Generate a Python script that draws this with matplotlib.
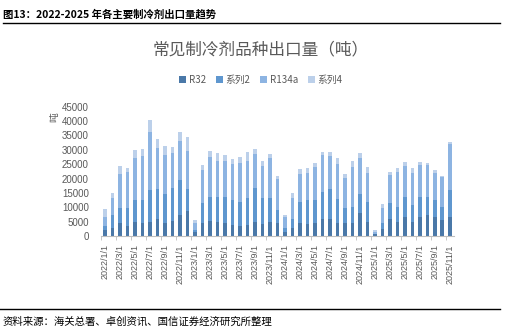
import numpy as np
import matplotlib
matplotlib.use("Agg")
import matplotlib.pyplot as plt

plt.rcParams['font.family'] = ['Noto Sans CJK SC', 'DejaVu Sans']

# monthly export volume (tonnes), 2022/1 .. 2025/11
months = ["%d/%d/1" % (y, m) for y in range(2022, 2026) for m in range(1, 13)][:47]
r32 = [2.1, 2.8, 4.4, 3.6, 5.0, 4.4, 5.0, 6.1, 4.4, 5.2, 7.3, 8.7,
       1.5, 4.4, 5.1, 5.0, 4.4, 3.8, 3.5, 3.8, 4.8, 4.1, 4.8, 4.4,
       1.5, 2.9, 4.4, 4.2, 4.4, 5.9, 5.9, 4.4, 4.4, 4.4, 8.1, 5.0,
       0.6, 2.4, 5.8, 4.9, 6.7, 5.0, 6.7, 7.3, 6.7, 5.5, 6.7]
s2 = [1.4, 4.5, 5.2, 6.3, 7.5, 8.1, 10.9, 10.3, 10.3, 11.6, 12.2, 7.7,
      0.6, 7.2, 8.5, 8.6, 9.3, 8.6, 8.4, 9.3, 12.0, 9.2, 8.3, 4.6,
      1.4, 3.2, 7.3, 8.3, 8.1, 9.5, 10.5, 8.5, 5.5, 5.8, 6.5, 6.9,
      0.3, 2.0, 5.6, 5.2, 7.0, 5.8, 6.8, 6.3, 5.7, 4.6, 9.3]
r134a = [3.1, 5.8, 12.0, 12.5, 14.5, 15.3, 20.1, 14.3, 13.5, 12.1, 13.6, 13.3,
         2.5, 11.3, 14.0, 12.6, 12.5, 12.7, 13.6, 13.1, 11.6, 11.1, 13.9, 10.8,
         3.7, 7.0, 9.9, 9.5, 11.4, 12.8, 11.5, 12.2, 10.2, 13.9, 12.4, 10.1,
         0.6, 5.2, 9.9, 12.1, 10.8, 11.2, 11.2, 11.1, 9.6, 10.6, 15.9]
s4 = [2.8, 2.0, 2.9, 1.4, 2.9, 2.5, 4.4, 3.1, 3.1, 2.0, 3.1, 4.6,
      1.0, 1.8, 2.0, 2.8, 1.8, 1.6, 2.1, 2.9, 1.9, 1.6, 1.5, 1.2,
      0.6, 2.0, 1.6, 1.5, 1.4, 1.1, 1.4, 1.9, 1.4, 1.9, 1.8, 1.9,
      0.6, 1.4, 1.1, 1.3, 1.2, 1.8, 1.2, 0.8, 0.9, 0.2, 0.8]

names = ["R32", "系列2", "R134a", "系列4"]
colors = ["#4a78a8", "#5f97cf", "#8db4e2", "#bcd0ea"]

fig = plt.figure(figsize=(5.22, 3.33), dpi=100)
ax = fig.add_axes([0.194, 0.291, 0.675, 0.389])

x = np.arange(len(months))
bottom = np.zeros(len(months))
for name, vals, c in zip(names, [r32, s2, r134a, s4], colors):
    v = np.array(vals) * 1000
    ax.bar(x, v, 0.5, bottom=bottom, color=c, label=name)
    bottom += v

ax.set_xlim(-0.5, len(months) - 0.5)
ax.set_ylim(0, 45000)
ax.set_yticks(range(0, 45001, 5000))
ax.tick_params(axis='y', length=0, labelsize=7, labelcolor='#595959', pad=9)
for lb in ax.get_yticklabels():
    lb.set_family(['Liberation Sans', 'DejaVu Sans'])
ax.set_xticks(x[::2])
ax.set_xticklabels(months[::2], rotation=90, fontsize=6.5, color='#595959',
                   family=['Liberation Sans', 'DejaVu Sans'])
ax.tick_params(axis='x', length=0, pad=6)
ax.set_xticks(np.arange(-0.5, len(months), 2), minor=True)
ax.tick_params(axis='x', which='minor', length=3, color='#bfbfbf')
for s in ['top', 'right', 'left']:
    ax.spines[s].set_visible(False)
ax.spines['bottom'].set_color('#bfbfbf')

fig.legend(loc='center', bbox_to_anchor=(0.5, 1 - 80 / 333), ncol=4, frameon=False,
           fontsize=7, handlelength=0.7, handleheight=0.7, handletextpad=0.3,
           columnspacing=1.0, labelcolor='#595959')

fig.text(0.5, 1 - 50 / 333, "常见制冷剂品种出口量（吨）", ha='center', va='center',
         fontsize=12, color='#595959')
fig.text(54 / 522, 1 - 117 / 333, "吨", rotation=90, ha='center', va='center',
         fontsize=7, color='#595959')

fig.text(3 / 522, 1 - 14 / 333, "图13：2022-2025 年各主要制冷剂出口量趋势", ha='left',
         va='center', fontsize=7.5, fontweight='bold', color='black')
fig.add_artist(plt.Line2D([3 / 522, 500 / 522], [1 - 23 / 333, 1 - 23 / 333],
                          color='black', lw=1))
fig.add_artist(plt.Line2D([0, 500 / 522], [1 - 309 / 333, 1 - 309 / 333],
                          color='black', lw=1))
fig.text(3 / 522, 1 - 322 / 333, "资料来源：海关总署、卓创资讯、国信证券经济研究所整理",
         ha='left', va='center', fontsize=7.5, color='black')

fig.savefig("out.png", dpi=100)
